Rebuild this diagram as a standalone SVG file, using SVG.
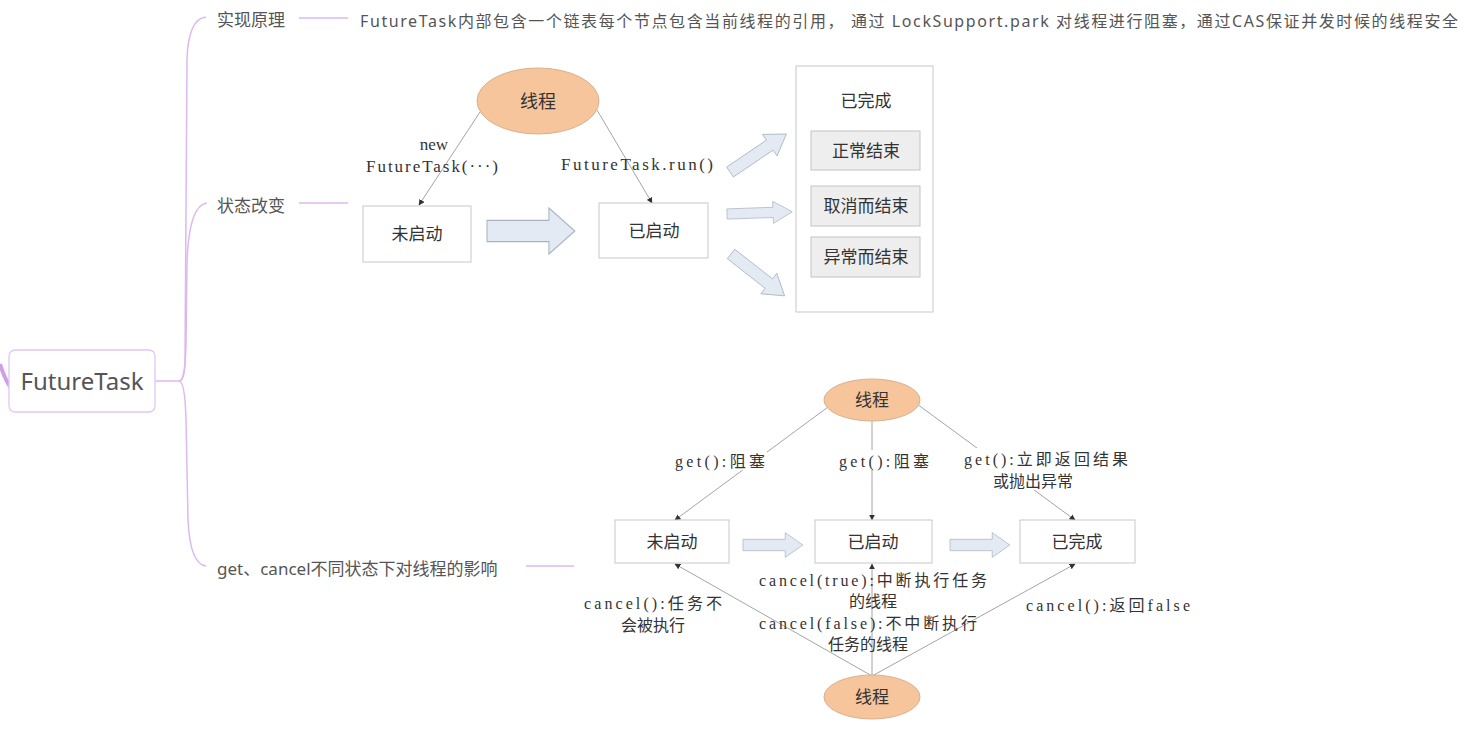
<svg xmlns="http://www.w3.org/2000/svg" width="1475" height="733" viewBox="0 0 1475 733">
<defs>
<style>
.mm{font-family:"Noto Sans","Noto Sans CJK SC",sans-serif;fill:#555;}
.br{fill:none;stroke:#dcb8f2;stroke-width:1.5;}
.dg{font-family:"Liberation Serif","Noto Sans CJK SC",serif;fill:#333;}
.box{fill:#fff;stroke:#c8c8c8;stroke-width:1;}
.sub{fill:#eeeeee;stroke:#c4c4c4;stroke-width:1;}
.ell{fill:#f7c59c;stroke:#d9b08c;stroke-width:1;}
.ln{fill:none;stroke:#9a9a9a;stroke-width:0.9;}
.blk{fill:#e3eaf3;stroke:#a9b3c0;stroke-width:0.8;}
</style>
<marker id="ah" viewBox="0 0 10 10" refX="9" refY="5" markerWidth="6" markerHeight="6" orient="auto" markerUnits="userSpaceOnUse">
<path d="M0,0 L10,5 L0,10 z" fill="#333"/>
</marker>
<path id="blkR" d="M0,-6 L48,-6 L48,-13 L68,0 L48,13 L48,6 L0,6 z"/>
</defs>
<rect width="1475" height="733" fill="#fff"/>

<g id="mindmap-connectors">
<path d="M0,364 Q5,380 11,388" fill="none" stroke="#cf9fe9" stroke-width="4"/>
<path class="br" d="M155,381 L179,381"/>
<path class="br" d="M179,381 Q185,381 185,360 L187,60 Q188,19 206,17"/>
<path class="br" d="M179,381 Q185,381 186,345 L187,262 Q189,205 207,203"/>
<path class="br" d="M179,381 Q185,381 186,420 L188,520 Q190,564 206,566"/>
<path class="br" d="M299,18 L348,18"/>
<path class="br" d="M299,203 L348,203"/>
<path class="br" d="M526,566 L574,566"/>
</g>

<g id="root">
<rect x="9" y="350" width="146" height="62" rx="6" fill="#fff" stroke="#e2c6f5" stroke-width="1.3"/>
<text class="mm" x="82" y="390" font-size="24" text-anchor="middle">FutureTask</text>
</g>
<g id="topic-impl">
<text class="mm" x="217" y="26" font-size="17">实现原理</text>
</g>
<g id="topic-impl-desc">
<text class="mm" x="360" y="27" font-size="16" textLength="1098">FutureTask内部包含一个链表每个节点包含当前线程的引用， 通过 LockSupport.park 对线程进行阻塞，通过CAS保证并发时候的线程安全</text>
</g>
<g id="topic-state">
<text class="mm" x="217" y="212" font-size="17">状态改变</text>
</g>
<g id="topic-getcancel">
<text class="mm" x="217" y="575" font-size="17">get、cancel不同状态下对线程的影响</text>
</g>

<!-- Top diagram -->
<g id="top-connectors">
<path class="ln" d="M480,112 L419,205" marker-end="url(#ah)"/>
<path class="ln" d="M597,110 L652,203" marker-end="url(#ah)"/>
<use href="#blkR" class="blk" transform="translate(487,231) scale(1.29,1.77)"/>
<use href="#blkR" class="blk" transform="translate(730,172) rotate(-34) scale(1.0,1.0)"/>
<use href="#blkR" class="blk" transform="translate(727,214) rotate(-2) scale(0.96,0.85)"/>
<use href="#blkR" class="blk" transform="translate(731,254) rotate(38) scale(1.0,1.0)"/>
</g>
<g id="top-labels">
<text class="dg" x="434" y="150" font-size="17" text-anchor="middle">new</text>
<text class="dg" x="432" y="172" font-size="17" text-anchor="middle" textLength="132">FutureTask(···)</text>
<text class="dg" x="637" y="170" font-size="17" text-anchor="middle" textLength="152">FutureTask.run()</text>
</g>
<g id="top-thread">
<ellipse class="ell" cx="538" cy="101" rx="61" ry="33"/>
<text class="dg" x="538" y="108" font-size="18" text-anchor="middle">线程</text>
</g>
<g id="top-notstarted">
<rect class="box" x="363" y="206" width="108" height="56"/>
<text class="dg" x="417" y="240" font-size="17" text-anchor="middle">未启动</text>
</g>
<g id="top-started">
<rect class="box" x="599" y="203" width="109" height="55"/>
<text class="dg" x="654" y="237" font-size="17" text-anchor="middle">已启动</text>
</g>
<g id="top-done">
<rect class="box" x="796" y="66" width="137" height="246"/>
<text class="dg" x="866" y="107" font-size="17" text-anchor="middle">已完成</text>
<rect class="sub" x="811" y="131" width="109" height="39"/>
<text class="dg" x="866" y="157" font-size="17" text-anchor="middle">正常结束</text>
<rect class="sub" x="811" y="186" width="109" height="40"/>
<text class="dg" x="866" y="212" font-size="17" text-anchor="middle">取消而结束</text>
<rect class="sub" x="811" y="237" width="109" height="40"/>
<text class="dg" x="866" y="263" font-size="17" text-anchor="middle">异常而结束</text>
</g>

<!-- Bottom diagram -->
<g id="bottom-connectors">
<path class="ln" d="M828,407 L675,520" marker-end="url(#ah)"/>
<path class="ln" d="M872,421 L872,520" marker-end="url(#ah)"/>
<path class="ln" d="M917,404 L1075,520" marker-end="url(#ah)"/>
<path class="ln" d="M872,676 L675,564" marker-end="url(#ah)"/>
<path class="ln" d="M872,676 L872,564" marker-end="url(#ah)"/>
<path class="ln" d="M872,676 L1075,564" marker-end="url(#ah)"/>
<use href="#blkR" class="blk" transform="translate(743,545) scale(0.88,0.95)"/>
<use href="#blkR" class="blk" transform="translate(950,545) scale(0.88,0.95)"/>
</g>
<g id="bottom-labels">
<rect x="673" y="450" width="94" height="20" fill="#fff"/>
<text class="dg" x="720" y="467" font-size="16" text-anchor="middle" textLength="90">get():阻塞</text>
<rect x="837" y="450" width="94" height="20" fill="#fff"/>
<text class="dg" x="884" y="467" font-size="16" text-anchor="middle" textLength="90">get():阻塞</text>
<rect x="962" y="448" width="168" height="42" fill="#fff"/>
<text class="dg" x="1046" y="465" font-size="16" text-anchor="middle" textLength="164">get():立即返回结果</text>
<text class="dg" x="1033" y="487" font-size="16" text-anchor="middle">或抛出异常</text>
<rect x="583" y="592" width="140" height="42" fill="#fff"/>
<text class="dg" x="653" y="609" font-size="16" text-anchor="middle" textLength="138">cancel():任务不</text>
<text class="dg" x="653" y="631" font-size="16" text-anchor="middle">会被执行</text>
<text class="dg" x="873" y="586" font-size="16" text-anchor="middle" textLength="228">cancel(true):中断执行任务</text>
<text class="dg" x="873" y="607" font-size="16" text-anchor="middle">的线程</text>
<text class="dg" x="868" y="629" font-size="16" text-anchor="middle" textLength="218">cancel(false):不中断执行</text>
<text class="dg" x="868" y="650" font-size="16" text-anchor="middle">任务的线程</text>
<rect x="1024" y="594" width="168" height="20" fill="#fff"/>
<text class="dg" x="1108" y="611" font-size="16" text-anchor="middle" textLength="164">cancel():返回false</text>
</g>
<g id="bottom-thread-top">
<ellipse class="ell" cx="872" cy="400" rx="48" ry="21"/>
<text class="dg" x="872" y="406" font-size="17" text-anchor="middle">线程</text>
</g>
<g id="bottom-notstarted">
<rect class="box" x="615" y="520" width="114" height="43"/>
<text class="dg" x="672" y="548" font-size="17" text-anchor="middle">未启动</text>
</g>
<g id="bottom-started">
<rect class="box" x="815" y="520" width="117" height="43"/>
<text class="dg" x="873" y="548" font-size="17" text-anchor="middle">已启动</text>
</g>
<g id="bottom-done">
<rect class="box" x="1020" y="520" width="115" height="43"/>
<text class="dg" x="1077" y="548" font-size="17" text-anchor="middle">已完成</text>
</g>
<g id="bottom-thread-bottom">
<ellipse class="ell" cx="872" cy="697" rx="48" ry="22"/>
<text class="dg" x="872" y="703" font-size="17" text-anchor="middle">线程</text>
</g>
</svg>
